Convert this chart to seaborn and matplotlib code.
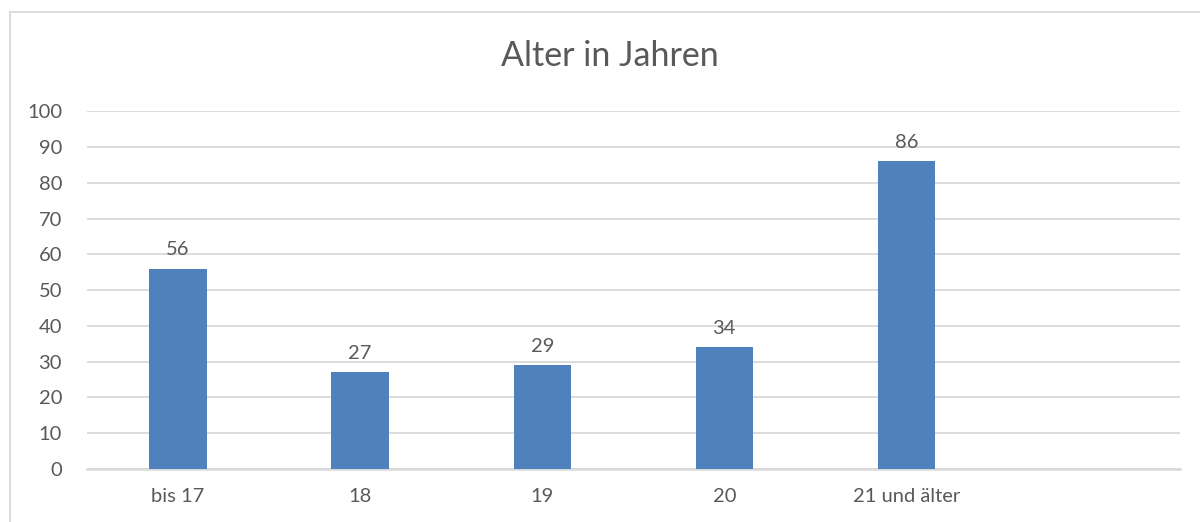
import matplotlib
matplotlib.use("Agg")
import matplotlib.pyplot as plt
import matplotlib.patches as patches
import seaborn as sns
import pandas as pd

# values
categories = ["bis 17", "18", "19", "20", "21 und älter"]
counts = [56, 27, 29, 34, 86]
yticks = [0, 10, 20, 30, 40, 50, 60, 70, 80, 90, 100]

sns.set_style("white")
plt.rcParams['font.family'] = ['Lato', 'DejaVu Sans']

text_color = "#595959"
bar_color = "#4f81bd"
grid_color = "#d9d9d9"

df = pd.DataFrame({"Alter": categories, "Anzahl": counts})

fig = plt.figure(figsize=(12, 5.22), dpi=100)
ax = fig.add_axes([0.0725, 0.1015, 0.9105, 0.6855])

sns.barplot(data=df, x="Alter", y="Anzahl", color=bar_color, width=0.315,
            saturation=1, linewidth=0, ax=ax, zorder=3)

# one empty slot on the right, like in the original
ax.set_xlim(-0.5, 5.5)
ax.set_ylim(0, 100)
ax.set_yticks(yticks)
ax.yaxis.grid(True, color=grid_color, linewidth=1.3, zorder=0)
ax.set_axisbelow(True)

for side in ["top", "right", "left"]:
    ax.spines[side].set_visible(False)
ax.spines["bottom"].set_color(grid_color)
ax.spines["bottom"].set_linewidth(1.8)

ax.tick_params(axis="both", length=0, labelsize=14.5, colors=text_color)
ax.tick_params(axis="y", pad=18)
ax.tick_params(axis="x", pad=14)
ax.set_xlabel("")
ax.set_ylabel("")

for i, v in enumerate(counts):
    ax.text(i, v + 3.0, str(v), ha="center", va="bottom", fontsize=14.5,
            color=text_color)

fig.text(0.508, 0.893, "Alter in Jahren", ha="center", va="center",
         fontsize=24.5, color=text_color)

# chart frame
frame = patches.Rectangle((10 / 1200, -0.1), 1.2, 1.1 - 12 / 522,
                          transform=fig.transFigure, fill=False,
                          edgecolor=grid_color, linewidth=1.3)
fig.patches.append(frame)

fig.savefig("out.png", dpi=100)
